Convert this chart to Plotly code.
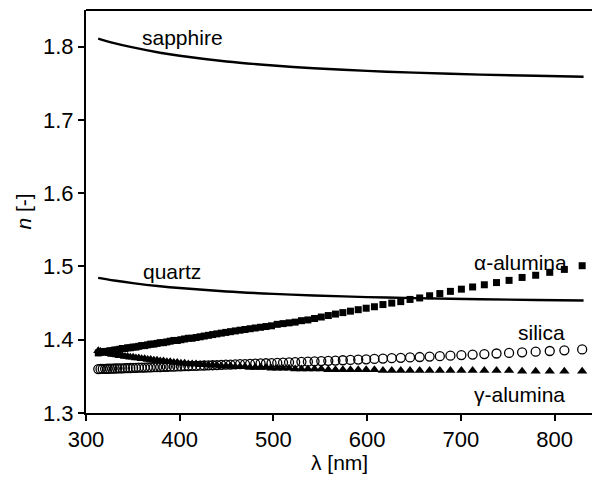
import plotly.graph_objects as go

# wavelength grid of the marker series (nm)
wl = [313.1, 315.5, 317.9, 320.4, 322.9, 325.5, 328.0, 330.7, 333.3, 336.0,
      338.8, 341.6, 344.4, 347.3, 350.3, 353.3, 356.3, 359.4, 362.6, 365.8,
      369.0, 372.4, 375.8, 379.2, 382.7, 386.3, 389.9, 393.7, 397.4, 401.3,
      405.2, 409.2, 413.3, 417.5, 421.8, 426.1, 430.6, 435.1, 439.7, 444.4,
      449.3, 454.2, 459.3, 464.4, 469.7, 475.1, 480.6, 486.3, 492.1, 498.0,
      504.1, 510.3, 516.7, 523.2, 529.9, 536.8, 543.9, 551.1, 558.6, 566.2,
      574.1, 582.2, 590.5, 599.0, 607.8, 616.9, 626.3, 635.9, 645.8, 656.1,
      666.7, 677.6, 688.9, 700.6, 712.6, 725.1, 738.1, 751.5, 765.4, 779.9,
      794.9, 810.5, 829.5]

alpha_alumina = [1.382, 1.383, 1.383, 1.384, 1.384, 1.385, 1.385, 1.386, 1.386, 1.387,
                 1.388, 1.388, 1.389, 1.389, 1.390, 1.390, 1.391, 1.392, 1.392, 1.393,
                 1.394, 1.394, 1.395, 1.396, 1.396, 1.397, 1.398, 1.399, 1.399, 1.400,
                 1.401, 1.402, 1.402, 1.403, 1.404, 1.405, 1.406, 1.407, 1.408, 1.409,
                 1.410, 1.411, 1.412, 1.413, 1.414, 1.415, 1.416, 1.417, 1.418, 1.419,
                 1.421, 1.422, 1.423, 1.424, 1.426, 1.427, 1.429, 1.431, 1.433, 1.435,
                 1.437, 1.439, 1.441, 1.443, 1.445, 1.448, 1.450, 1.452, 1.455, 1.457,
                 1.460, 1.463, 1.466, 1.469, 1.472, 1.475, 1.478, 1.481, 1.485, 1.488,
                 1.492, 1.496, 1.501]

silica = [1.3600, 1.3601, 1.3602, 1.3603, 1.3604, 1.3605, 1.3606, 1.3607, 1.3608, 1.3609,
          1.3610, 1.3612, 1.3613, 1.3614, 1.3615, 1.3617, 1.3618, 1.3619, 1.3620, 1.3622,
          1.3623, 1.3625, 1.3626, 1.3627, 1.3629, 1.3631, 1.3632, 1.3634, 1.3635, 1.3637,
          1.3639, 1.3641, 1.3642, 1.3644, 1.3646, 1.3648, 1.3650, 1.3652, 1.3654, 1.3657,
          1.3659, 1.3661, 1.3663, 1.3666, 1.3668, 1.3671, 1.3673, 1.3676, 1.3679, 1.3682,
          1.3685, 1.3688, 1.3691, 1.3694, 1.3698, 1.3701, 1.3705, 1.3708, 1.3712, 1.3716,
          1.3720, 1.3724, 1.3729, 1.3733, 1.3738, 1.3743, 1.3748, 1.3753, 1.3758, 1.3764,
          1.3770, 1.3776, 1.3783, 1.3790, 1.3797, 1.3804, 1.3812, 1.3820, 1.3828, 1.3837,
          1.3846, 1.3856, 1.3868]

gamma_alumina = [1.385, 1.384, 1.383, 1.383, 1.382, 1.381, 1.380, 1.380, 1.379, 1.378,
                 1.378, 1.377, 1.377, 1.376, 1.376, 1.375, 1.375, 1.374, 1.374, 1.373,
                 1.373, 1.372, 1.372, 1.371, 1.371, 1.370, 1.370, 1.369, 1.369, 1.368,
                 1.368, 1.367, 1.367, 1.367, 1.366, 1.366, 1.365, 1.365, 1.365, 1.364,
                 1.364, 1.364, 1.363, 1.363, 1.363, 1.362, 1.362, 1.362, 1.362, 1.361,
                 1.361, 1.361, 1.361, 1.360, 1.360, 1.360, 1.360, 1.360, 1.359, 1.359,
                 1.359, 1.359, 1.359, 1.359, 1.359, 1.358, 1.358, 1.358, 1.358, 1.358,
                 1.358, 1.358, 1.358, 1.358, 1.358, 1.358, 1.358, 1.358, 1.357, 1.357,
                 1.357, 1.357, 1.357]

# continuous curves
wl_line = [313, 330, 350, 379, 400, 450, 500, 543, 600, 650, 721, 780, 831]
sapphire = [1.8110, 1.8049, 1.7989, 1.7917, 1.7875, 1.7797, 1.7742, 1.7705, 1.7669,
            1.7645, 1.7618, 1.7602, 1.7590]
quartz = [1.4845, 1.4809, 1.4773, 1.4730, 1.4705, 1.4659, 1.4626, 1.4604, 1.4582,
          1.4568, 1.4552, 1.4542, 1.4535]

x_ticks = [300, 400, 500, 600, 700, 800]
y_ticks = [1.3, 1.4, 1.5, 1.6, 1.7, 1.8]

labels = [("sapphire", 403, 1.812), ("quartz", 392, 1.4925), ("α-alumina", 764, 1.506),
          ("silica", 786, 1.4095), ("γ-alumina", 763, 1.325)]

FONT = "Liberation Sans, Arial, sans-serif"

fig = go.Figure()
fig.add_trace(go.Scatter(x=wl_line, y=sapphire, mode="lines", line=dict(color="black", width=2.4, shape="spline")))
fig.add_trace(go.Scatter(x=wl_line, y=quartz, mode="lines", line=dict(color="black", width=2.4, shape="spline")))
fig.add_trace(go.Scatter(x=wl, y=gamma_alumina, mode="markers",
                         marker=dict(symbol="triangle-up", size=9, color="black")))
fig.add_trace(go.Scatter(x=wl, y=silica, mode="markers",
                         marker=dict(symbol="circle-open", size=9, color="black", line=dict(width=1.3))))
fig.add_trace(go.Scatter(x=wl, y=alpha_alumina, mode="markers",
                         marker=dict(symbol="square", size=7, color="black")))

for txt, x, y in labels:
    fig.add_annotation(x=x, y=y, text=txt, showarrow=False,
                       font=dict(family=FONT, size=21, color="black"))

# x-axis title placed just below the tick labels
fig.add_annotation(x=0.5, y=-0.122, xref="paper", yref="paper", text="λ [nm]", showarrow=False,
                   yanchor="middle", font=dict(family=FONT, size=21, color="black"))

axis_common = dict(showgrid=False, zeroline=False, showline=True, linecolor="black", linewidth=2,
                   ticks="outside", ticklen=6, tickwidth=1.5, tickcolor="black",
                   tickfont=dict(family=FONT, size=22, color="black"))

fig.update_xaxes(range=[300, 840], tickvals=x_ticks, mirror=False, **axis_common)
fig.update_yaxes(range=[1.3, 1.85], tickvals=y_ticks, tickformat=".1f",
                 title=dict(text="<i>n</i> [-]", font=dict(family=FONT, size=21, color="black"), standoff=6),
                 **axis_common)
# top frame line
fig.add_shape(type="line", xref="paper", yref="paper", x0=0, x1=1, y0=1, y1=1,
              line=dict(color="black", width=2))

fig.update_layout(width=592, height=478, margin=dict(l=86, r=0, t=10, b=65),
                  plot_bgcolor="white", paper_bgcolor="white", showlegend=False)

fig.write_html("out.html")
